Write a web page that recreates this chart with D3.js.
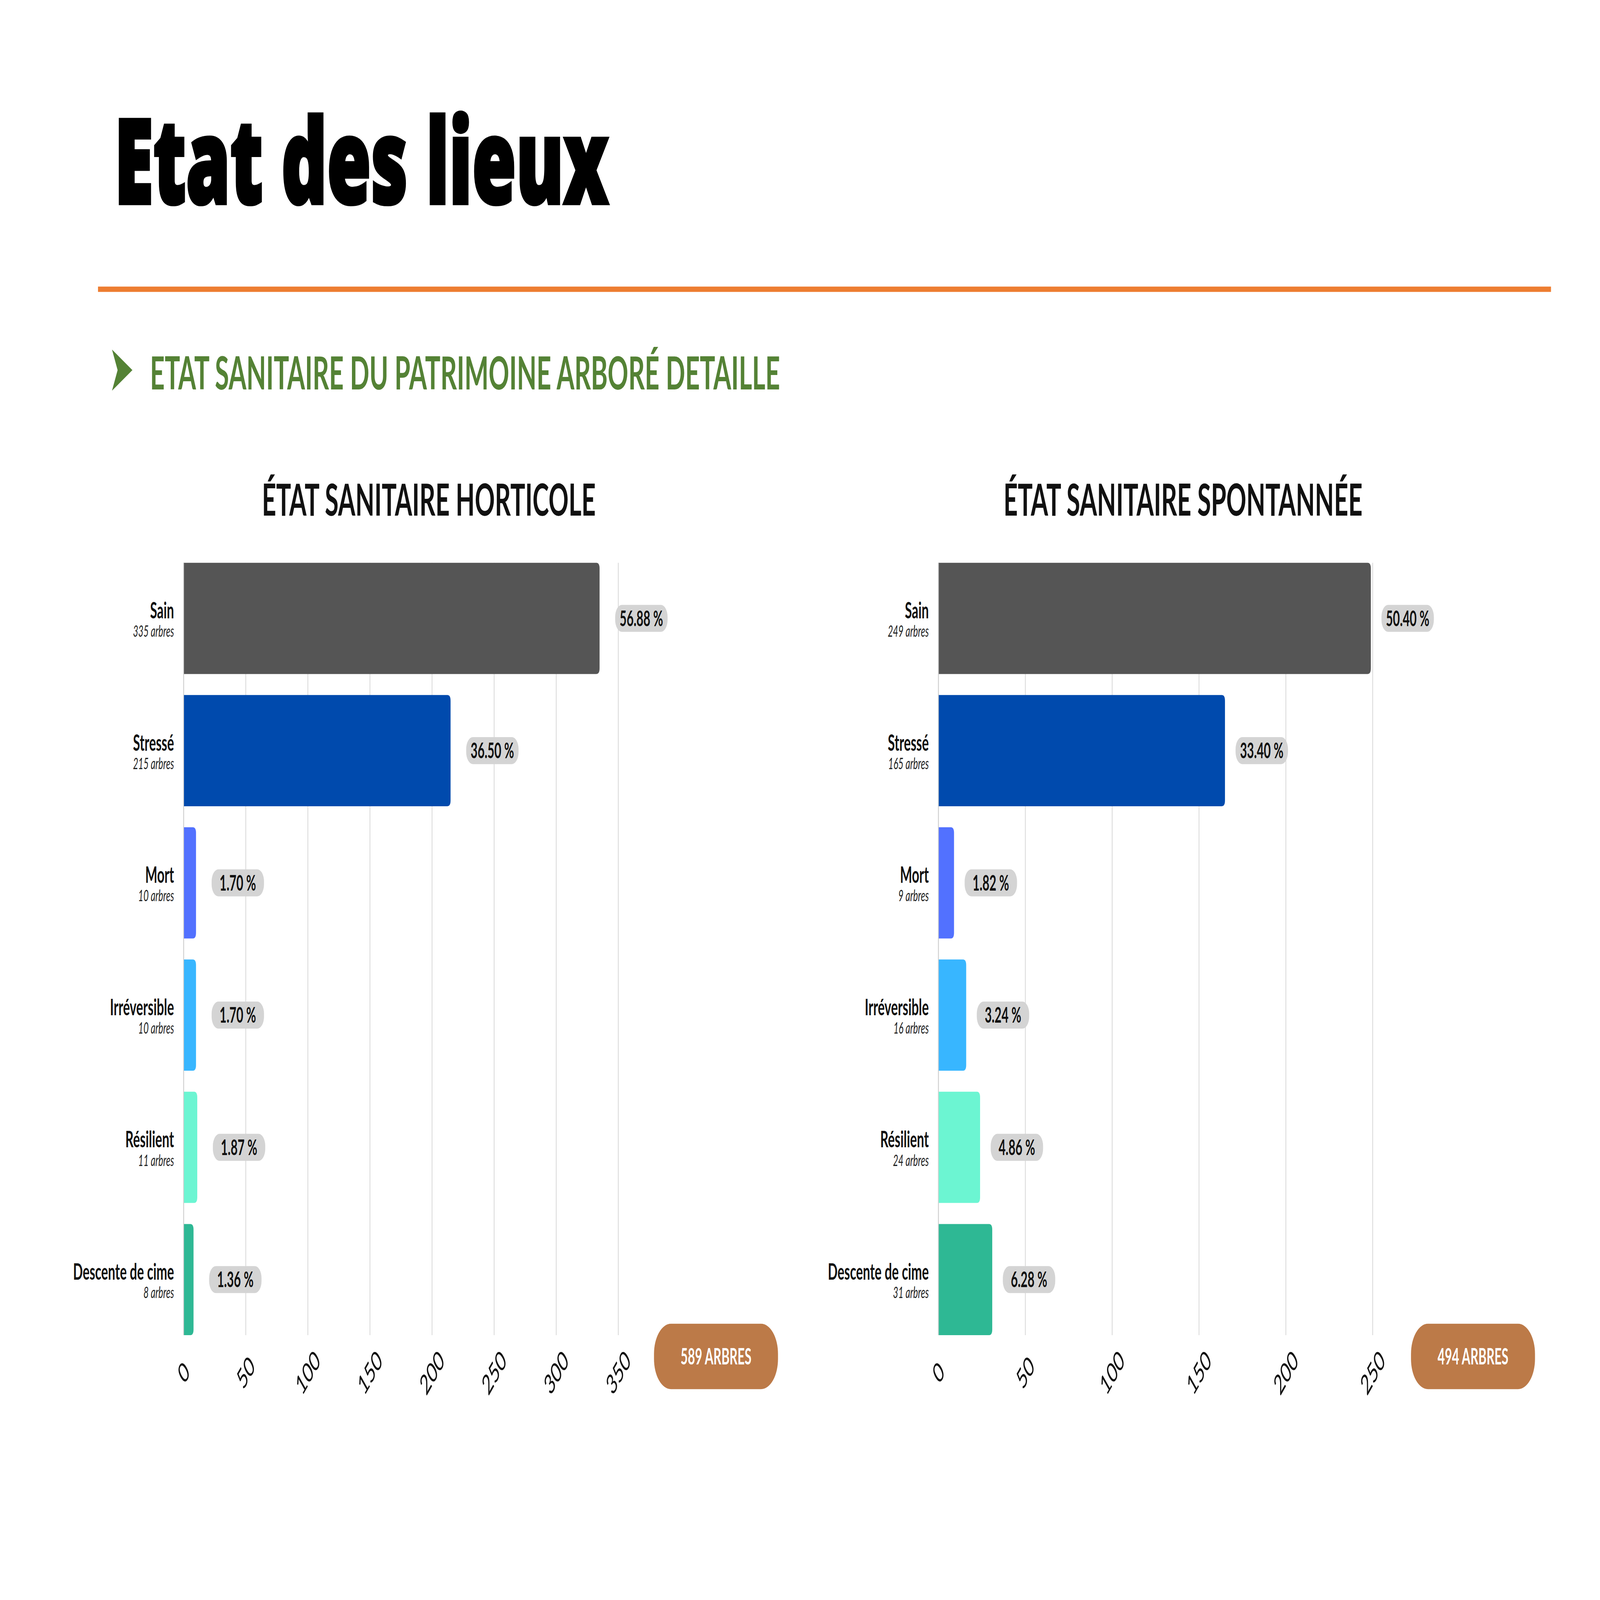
<!DOCTYPE html>
<html>
<head>
<meta charset="utf-8">
<script src="https://cdn.jsdelivr.net/npm/d3@7"></script>
<style>
  html, body { margin: 0; padding: 0; background: #fff; width: 100%; height: 100%; overflow: hidden; }
  svg { display: block; width: 100vw; height: 100vh; font-family: "Lato", "Open Sans", sans-serif; }
</style>
</head>
<body>
<svg id="chart"></svg>
<script>
const categories = ["Sain", "Stressé", "Mort", "Irréversible", "Résilient", "Descente de cime"];
const barColors = ["#555555", "#004aad", "#5271ff", "#38b6ff", "#6cf5d2", "#2eb894"];

const horticoleCounts = [335, 215, 10, 10, 11, 8];
const horticolePct = [56.88, 36.50, 1.70, 1.70, 1.87, 1.36];
const horticoleTicks = [0, 50, 100, 150, 200, 250, 300, 350];
const horticoleTotal = 589;

const spontaneeCounts = [249, 165, 9, 16, 24, 31];
const spontaneePct = [50.40, 33.40, 1.82, 3.24, 4.86, 6.28];
const spontaneeTicks = [0, 50, 100, 150, 200, 250];
const spontaneeTotal = 494;

const W = 8000, H = 4500;
// the window may not keep the 16:9 size, so the drawing is fitted to it
const svg = d3.select("#chart")
  .attr("viewBox", `0 0 ${W} ${H}`)
  .attr("preserveAspectRatio", "none");

svg.append("rect").attr("width", W).attr("height", H).attr("fill", "#fff");

// Header
svg.append("text")
  .attr("x", 572).attr("y", 572)
  .attr("font-family", "'Open Sans', Lato, sans-serif")
  .attr("font-size", 330).attr("font-weight", 800)
  .attr("textLength", 2470).attr("lengthAdjust", "spacingAndGlyphs")
  .attr("fill", "#000").attr("stroke", "#000").attr("stroke-width", 10)
  .text("Etat des lieux");

svg.append("rect")
  .attr("x", 490).attr("y", 806)
  .attr("width", 7265).attr("height", 15)
  .attr("fill", "#ed7d31");

svg.append("path")
  .attr("d", "M560,983 L662,1041 L560,1099 L588,1041 Z")
  .attr("fill", "#548235");

svg.append("text")
  .attr("x", 750).attr("y", 1095)
  .attr("font-size", 128).attr("font-weight", 700)
  .attr("textLength", 3150).attr("lengthAdjust", "spacingAndGlyphs")
  .attr("fill", "#548235")
  .text("ETAT SANITAIRE DU PATRIMOINE ARBORÉ DETAILLE");

function barPath(x0, x1, y, h, r) {
  r = Math.min(r, x1 - x0, h / 2);
  return `M${x0},${y} H${x1 - r} Q${x1},${y} ${x1},${y + r} V${y + h - r} Q${x1},${y + h} ${x1 - r},${y + h} H${x0} Z`;
}

function drawChart(opt) {
  const g = svg.append("g");
  const x = d3.scaleLinear().domain([0, opt.max]).range([opt.left, opt.right]);
  const y = d3.scaleBand().domain(categories).range([1553, 3785])
    .paddingInner(0.159).paddingOuter(0.08);
  const top = y(categories[0]);
  const bottom = y(categories[categories.length - 1]) + y.bandwidth();

  g.append("text")
    .attr("x", opt.titleX).attr("y", 1450)
    .attr("text-anchor", "middle")
    .attr("font-size", 124).attr("font-weight", 700)
    .attr("fill", "#111")
    .text(opt.title);

  // Grid lines
  g.append("g")
    .attr("transform", `translate(0,${bottom})`)
    .call(d3.axisBottom(x).tickValues(opt.ticks).tickSize(-(bottom - top)).tickFormat(""))
    .call(a => a.select(".domain").remove())
    .call(a => a.selectAll(".tick line").attr("stroke", "#d9d9d9").attr("stroke-width", 4));

  // Tick labels
  g.append("g")
    .attr("transform", `translate(0,${bottom})`)
    .call(d3.axisBottom(x).tickValues(opt.ticks).tickSize(0))
    .call(a => a.select(".domain").remove())
    .call(a => a.selectAll(".tick text")
      .attr("y", 0).attr("dy", "0.35em")
      .attr("text-anchor", "middle")
      .attr("transform", "translate(0,105) rotate(-45)")
      .attr("font-size", 78).attr("font-family", "Lato, sans-serif")
      .attr("fill", "#111"));

  // Bars
  g.selectAll(".bar")
    .data(categories)
    .enter().append("path")
    .attr("d", (c, i) => barPath(x(0), x(opt.counts[i]), y(c), y.bandwidth(), 16))
    .attr("fill", (c, i) => barColors[i]);

  g.append("line")
    .attr("x1", x(0)).attr("x2", x(0))
    .attr("y1", top).attr("y2", bottom)
    .attr("stroke", "#d0d0d0").attr("stroke-width", 4);

  // Category labels
  const lab = g.selectAll(".lab").data(categories).enter().append("g")
    .attr("transform", c => `translate(${x(0) - 48},${y(c) + y.bandwidth() / 2})`);
  lab.append("text")
    .attr("text-anchor", "end")
    .attr("font-size", 64).attr("font-weight", 700)
    .attr("fill", "#111")
    .text(c => c);
  lab.append("text")
    .attr("y", 52)
    .attr("text-anchor", "end")
    .attr("font-size", 45).attr("font-style", "italic")
    .attr("fill", "#222")
    .text((c, i) => `${opt.counts[i]} arbres`);

  // Percentage pills
  const pill = g.selectAll(".pill").data(categories).enter().append("g")
    .attr("transform", (c, i) => `translate(${x(opt.counts[i]) + opt.pillGap},${y(c) + y.bandwidth() / 2})`);
  pill.append("rect")
    .attr("x", 0).attr("y", -38)
    .attr("width", 262).attr("height", 76)
    .attr("rx", 34)
    .attr("fill", "#d4d4d4");
  pill.append("text")
    .attr("x", 131).attr("dy", "0.36em")
    .attr("text-anchor", "middle")
    .attr("font-size", 60).attr("font-weight", 700)
    .attr("fill", "#111")
    .text((c, i) => `${opt.pct[i].toFixed(2)} %`);

  // Total badge
  const badge = g.append("g").attr("transform", `translate(${opt.badgeX},3723)`);
  badge.append("rect")
    .attr("width", 620).attr("height", 184)
    .attr("rx", 85)
    .attr("fill", "#bc7a48");
  badge.append("text")
    .attr("x", 310).attr("y", 92).attr("dy", "0.36em")
    .attr("text-anchor", "middle")
    .attr("font-size", 62).attr("font-weight", 700)
    .attr("fill", "#fff")
    .text(`${opt.total} ARBRES`);
}

drawChart({
  title: "ÉTAT SANITAIRE HORTICOLE",
  titleX: 2144,
  counts: horticoleCounts, pct: horticolePct,
  ticks: horticoleTicks, total: horticoleTotal,
  max: 350, left: 918, right: 3091,
  pillGap: 78, badgeX: 3270
});

drawChart({
  title: "ÉTAT SANITAIRE SPONTANNÉE",
  titleX: 5915,
  counts: spontaneeCounts, pct: spontaneePct,
  ticks: spontaneeTicks, total: spontaneeTotal,
  max: 250, left: 4692, right: 6863,
  pillGap: 53, badgeX: 7055
});
</script>
</body>
</html>
